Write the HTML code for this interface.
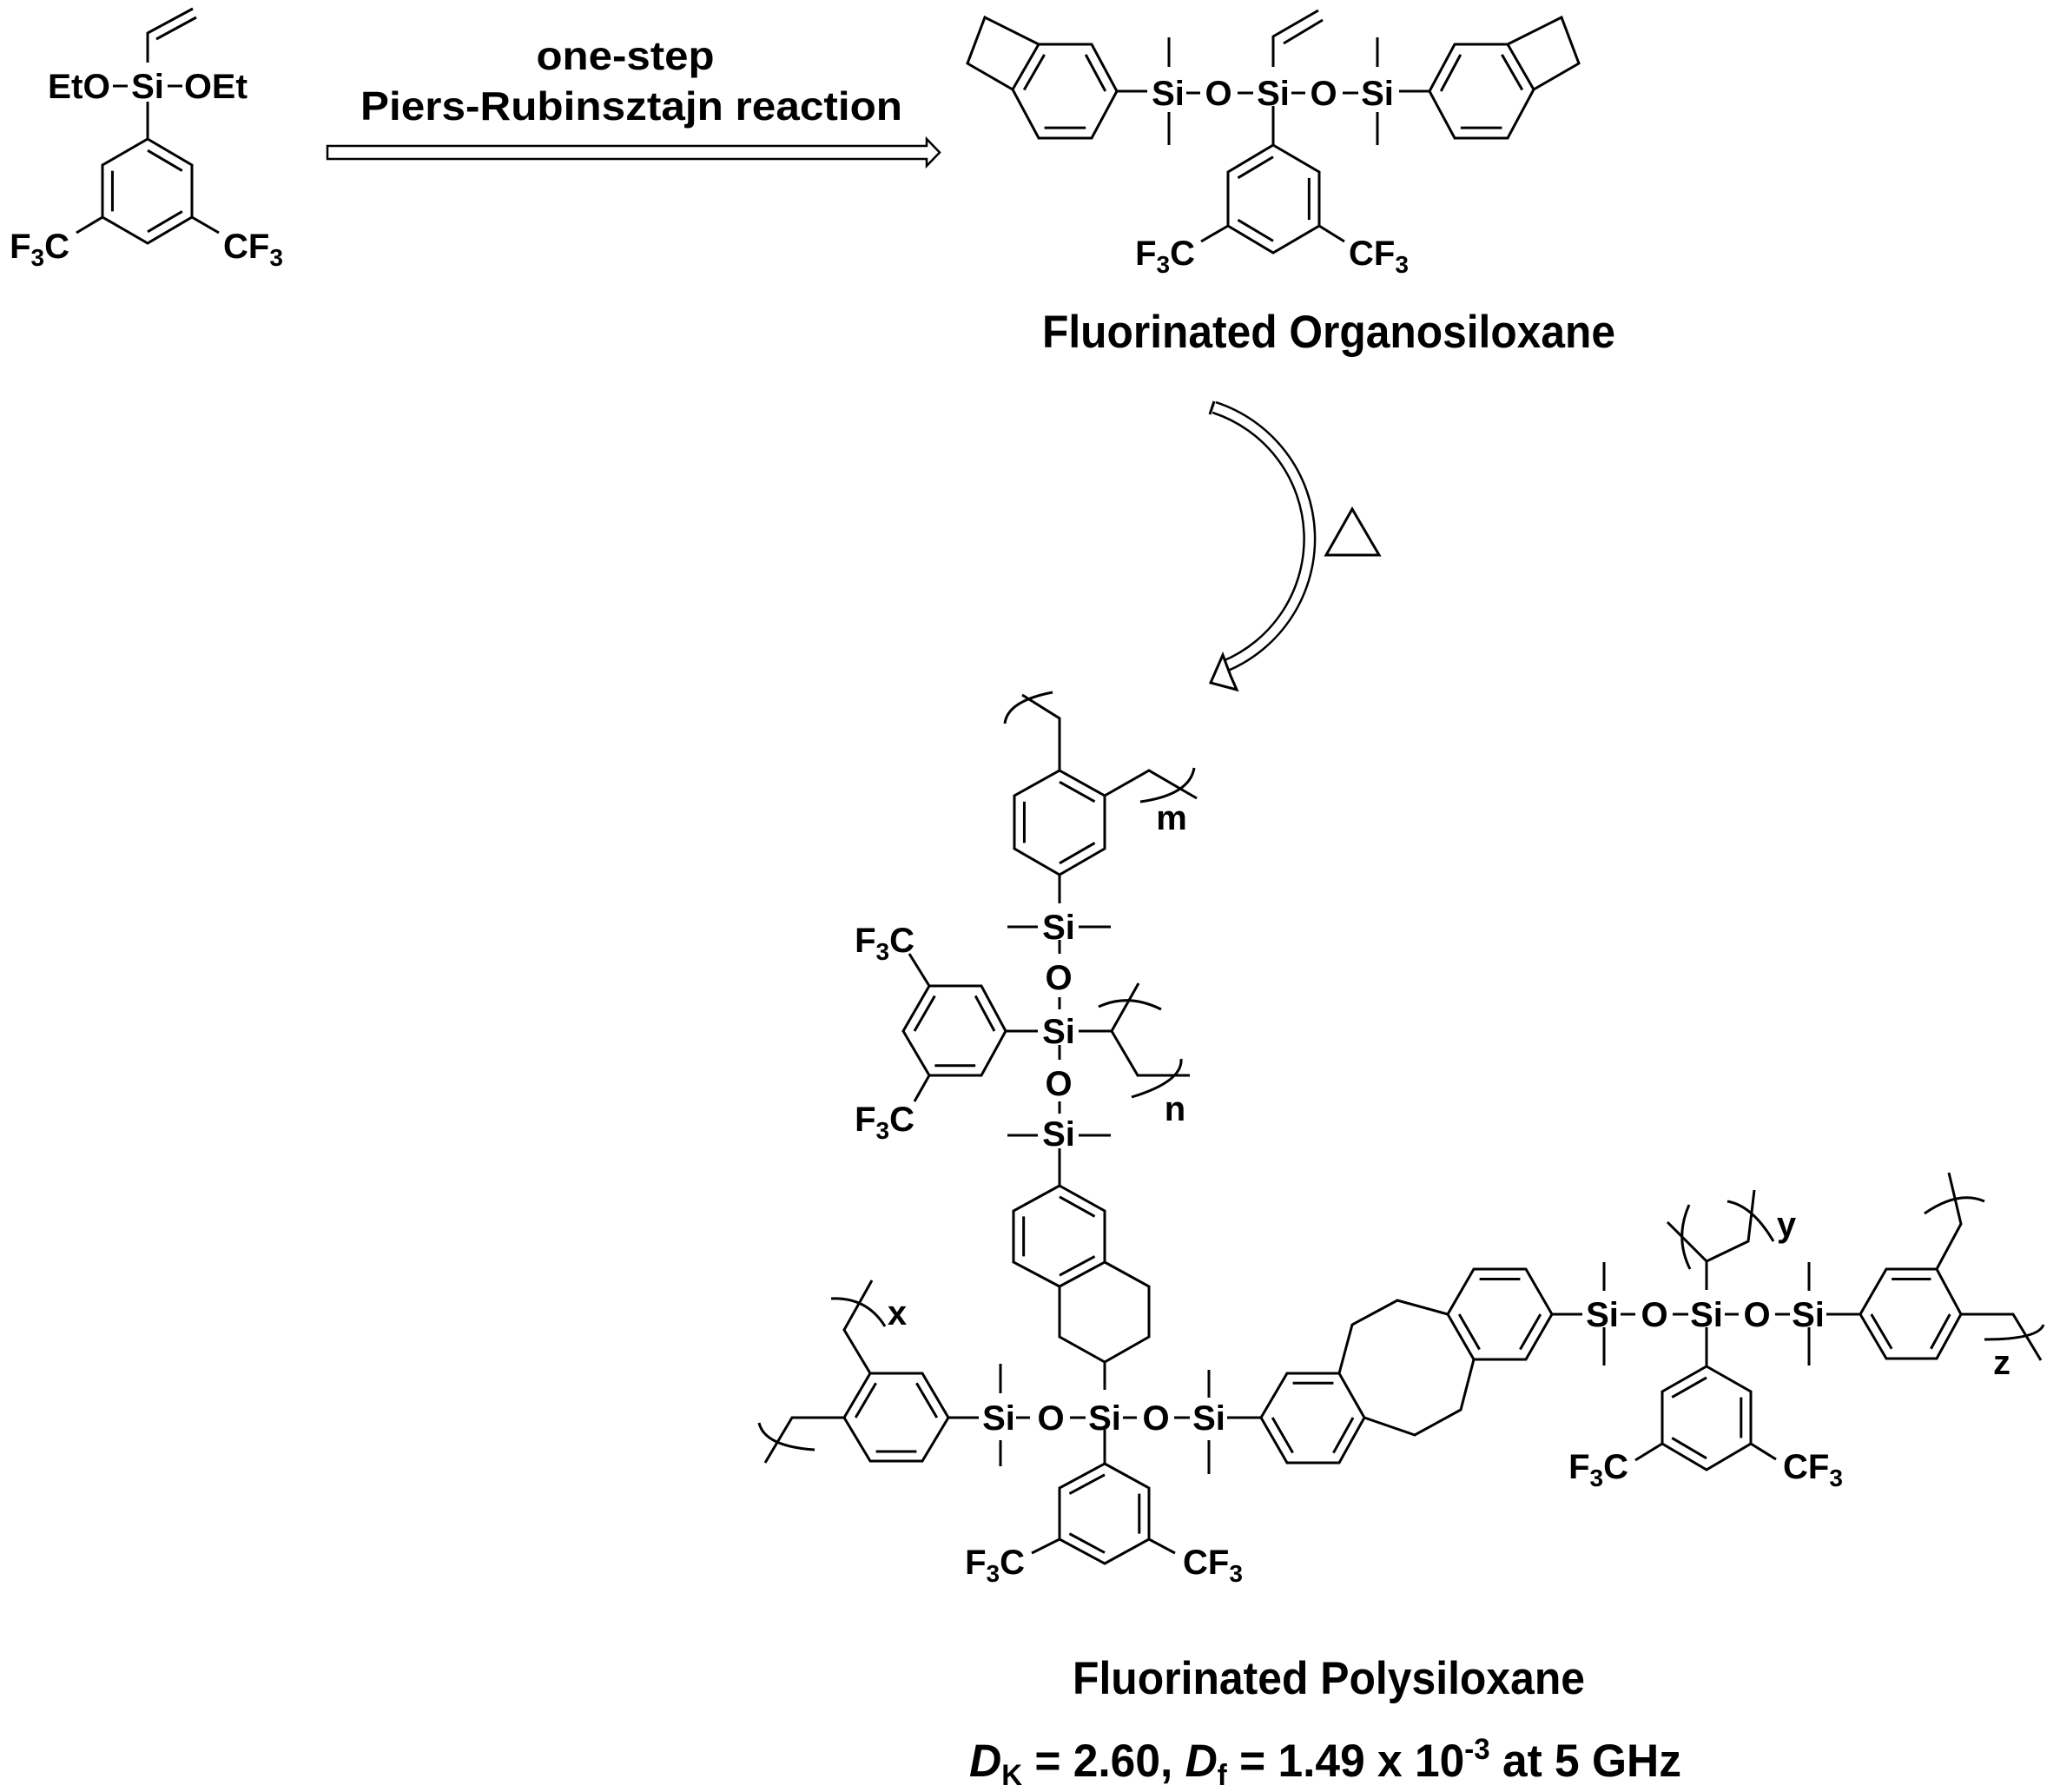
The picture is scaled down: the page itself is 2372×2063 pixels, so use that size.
<!DOCTYPE html>
<html><head><meta charset="utf-8"><style>
html,body{margin:0;padding:0;background:#fff}
svg{display:block}
text{font-family:"Liberation Sans",Arial,sans-serif;font-weight:bold;fill:#000}
.l{font-size:40px;text-anchor:middle}
</style></head><body>
<svg width="2372" height="2063" viewBox="0 0 2372 2063" xmlns="http://www.w3.org/2000/svg">
<g fill="none" stroke="#000" stroke-width="3" stroke-linejoin="miter" stroke-linecap="butt">
<path d="M170,72 V38 L222,10 M180,45 L226,20"/>
<path d="M170,117 V160"/>
<path d="M170,160 L221,190 L221,250 L170,280 L118,250 L118,190 Z"/>
<path d="M170,160 L221,190 M221,250 L170,280 M118,250 L118,190" transform="translate(170,220) scale(0.78) translate(-170,-220)" vector-effect="non-scaling-stroke"/>
<path d="M118,250 L88,268 M221,250 L252,268"/>
<path d="M130,99 H147 M193,99 H210"/>
<path d="M377,168 H1067 V160 L1082,175.5 L1067,191 V183 H377 Z" fill="#fff" stroke-width="2.5"/>

<path d="M1346,43 V77 M1346,129 V167 M1586,43 V77 M1586,129 V167"/>
<path d="M1466,77 V42 L1518,12 M1478,50 L1523,23"/>
<path d="M1366,107 H1382 M1425,107 H1443 M1487,107 H1503 M1546,107 H1564"/>
<path d="M1286,105 H1321 M1611,105 H1646"/>
<path d="M1286,105 L1257,51 L1196,51 L1166,103 L1196,159 L1257,159 Z M1196,51 L1134,20 L1114,73 L1166,103"/>
<path d="M1196,51 L1166,103 M1257,51 L1286,105 M1196,159 L1257,159" transform="translate(1226,105) scale(0.78) translate(-1226,-105)" vector-effect="non-scaling-stroke"/>
<path d="M1646,105 L1675,51 L1736,51 L1766,103 L1736,159 L1675,159 Z M1736,51 L1798,20 L1818,73 L1766,103"/>
<path d="M1736,51 L1766,103 M1675,51 L1646,105 M1675,159 L1736,159" transform="translate(1706,105) scale(0.78) translate(-1706,-105)" vector-effect="non-scaling-stroke"/>
<path d="M1466,122 V167"/>
<path d="M1466,167 L1519,198 L1519,260 L1466,291 L1414,260 L1414,198 Z"/>
<path d="M1414,198 L1466,167 M1519,198 L1519,260 M1414,260 L1466,291" transform="translate(1466,229) scale(0.78) translate(-1466,-229)" vector-effect="non-scaling-stroke"/>
<path d="M1414,260 L1383,278 M1519,260 L1548,278"/>

<path d="M1398,469 A159,159 0 0 1 1410,767" stroke-width="15"/>
<path d="M1398,469 A159,159 0 0 1 1410,767" stroke="#fff" stroke-width="10"/>
<path d="M1398,462 L1393,477" stroke-width="3"/>
<path d="M1408,754 L1394,786 L1424,794 L1417,778 Z" fill="#fff" stroke-width="3"/>
<path d="M1527,639 L1557,586 L1588,639 Z" stroke-width="3"/>

<path d="M1220,887 L1272,916 L1272,977 L1220,1007 L1168,977 L1168,916 Z"/>
<path d="M1220,887 L1272,916 M1168,916 L1168,977 M1272,977 L1220,1007" transform="translate(1220,947) scale(0.78) translate(-1220,-947)" vector-effect="non-scaling-stroke"/>
<path d="M1220,887 V827 L1177,800 M1157,833 Q1160,807 1212,797"/>
<path d="M1272,916 L1323,887 L1378,919 M1313,923 Q1370,915 1375,884"/>
<path d="M1220,1007 V1040"/>
<path d="M1160,1067 H1195 M1242,1067 H1279 M1160,1307 H1195 M1242,1307 H1279"/>
<path d="M1220,1082 V1098 M1220,1148 V1162 M1220,1203 V1220 M1220,1268 V1282"/>
<path d="M1158,1187 L1130,1135 L1070,1135 L1040,1187 L1070,1238 L1130,1238 Z"/>
<path d="M1158,1187 L1130,1135 M1070,1135 L1040,1187 M1070,1238 L1130,1238" transform="translate(1099,1187) scale(0.78) translate(-1099,-1187)" vector-effect="non-scaling-stroke"/>
<path d="M1195,1187 H1158 M1070,1135 L1047,1098 M1070,1238 L1053,1268"/>
<path d="M1242,1187 H1280 L1311,1132 M1265,1159 Q1299,1143 1337,1162 M1280,1187 L1310,1238 H1370 M1303,1263 Q1362,1245 1360,1219"/>
<path d="M1220,1322 V1365"/>
<path d="M1220,1365 L1272,1394 L1272,1453 L1220,1481 L1167,1453 L1167,1394 Z"/>
<path d="M1220,1365 L1272,1394 M1167,1394 L1167,1453 M1272,1453 L1220,1481" transform="translate(1220,1423) scale(0.78) translate(-1220,-1423)" vector-effect="non-scaling-stroke"/>
<path d="M1272,1453 L1323,1481 L1323,1539 L1272,1568 L1220,1539 L1220,1481"/>
<path d="M1272,1568 V1600"/>
<path d="M1170,1632 H1186 M1232,1632 H1250 M1293,1632 H1309 M1352,1632 H1370"/>
<path d="M1152,1570 V1604 M1152,1658 V1688 M1392,1577 V1609 M1392,1658 V1697"/>
<path d="M1127,1632 H1092"/>
<path d="M1092,1632 L1062,1581 L1002,1581 L972,1632 L1002,1682 L1062,1682 Z"/>
<path d="M1092,1632 L1062,1581 M1002,1581 L972,1632 M1002,1682 L1062,1682" transform="translate(1032,1632) scale(0.78) translate(-1032,-1632)" vector-effect="non-scaling-stroke"/>
<path d="M1002,1581 L972,1531 L1004,1474 M957,1495 Q998,1493 1019,1527"/>
<path d="M972,1632 H912 L881,1684 M874,1638 Q880,1665 938,1669"/>
<path d="M1272,1645 V1685"/>
<path d="M1272,1685 L1323,1713 L1323,1772 L1272,1800 L1220,1772 L1220,1713 Z"/>
<path d="M1220,1713 L1272,1685 M1323,1713 L1323,1772 M1220,1772 L1272,1800" transform="translate(1272,1743) scale(0.78) translate(-1272,-1743)" vector-effect="non-scaling-stroke"/>
<path d="M1220,1772 L1188,1788 M1323,1772 L1353,1788"/>
<path d="M1413,1632 H1452"/>
<path d="M1452,1632 L1482,1581 L1542,1581 L1571,1632 L1542,1684 L1482,1684 Z"/>
<path d="M1482,1581 L1542,1581 M1452,1632 L1482,1684 M1571,1632 L1542,1684" transform="translate(1512,1632) scale(0.78) translate(-1512,-1632)" vector-effect="non-scaling-stroke"/>
<path d="M1542,1581 L1557,1525 L1609,1497 L1667,1513 M1571,1632 L1629,1652 L1682,1623 L1697,1565"/>
<path d="M1667,1513 L1697,1461 L1757,1461 L1787,1513 L1757,1565 L1697,1565 Z"/>
<path d="M1697,1461 L1757,1461 M1667,1513 L1697,1565 M1787,1513 L1757,1565" transform="translate(1727,1513) scale(0.78) translate(-1727,-1513)" vector-effect="non-scaling-stroke"/>
<path d="M1787,1513 H1822"/>
<path d="M1866,1513 H1883 M1926,1513 H1944 M1986,1513 H2002 M2044,1513 H2061"/>
<path d="M1847,1453 V1486 M1847,1528 V1572 M2083,1453 V1486 M2083,1528 V1572"/>
<path d="M1965,1485 V1452 L1920,1407 M1945,1387 Q1928,1425 1946,1461 M1965,1452 L2013,1429 L2020,1370 M1989,1383 Q2018,1388 2042,1429"/>
<path d="M1965,1528 V1573"/>
<path d="M1965,1573 L2016,1602 L2016,1662 L1965,1692 L1914,1662 L1914,1602 Z"/>
<path d="M1914,1602 L1965,1573 M2016,1602 L2016,1662 M1914,1662 L1965,1692" transform="translate(1965,1632) scale(0.78) translate(-1965,-1632)" vector-effect="non-scaling-stroke"/>
<path d="M1914,1662 L1883,1681 M2016,1662 L2045,1680"/>
<path d="M2103,1513 H2142"/>
<path d="M2142,1513 L2172,1461 L2230,1461 L2258,1513 L2230,1564 L2172,1564 Z"/>
<path d="M2172,1461 L2230,1461 M2142,1513 L2172,1564 M2258,1513 L2230,1564" transform="translate(2200,1513) scale(0.78) translate(-2200,-1513)" vector-effect="non-scaling-stroke"/>
<path d="M2230,1461 L2258,1409 L2244,1350 M2216,1397 Q2255,1370 2285,1383"/>
<path d="M2258,1513 H2318 L2350,1566 M2285,1542 Q2347,1542 2353,1525"/>
</g>

<text x="720" y="80" font-size="46" text-anchor="middle" textLength="205" lengthAdjust="spacingAndGlyphs">one-step</text>
<text x="727" y="138" font-size="46" text-anchor="middle" textLength="624" lengthAdjust="spacingAndGlyphs">Piers-Rubinsztajn reaction</text>

<text x="127" y="113" font-size="40" text-anchor="end" textLength="72" lengthAdjust="spacingAndGlyphs">EtO</text>
<text class="l" x="170" y="113">Si</text>
<text x="212" y="113" font-size="40" textLength="73" lengthAdjust="spacingAndGlyphs">OEt</text>
<text x="80" y="297" font-size="40" text-anchor="end">F<tspan font-size="28" dy="9">3</tspan><tspan dy="-9">C</tspan></text>
<text x="257" y="297" font-size="40">CF<tspan font-size="28" dy="9">3</tspan></text>

<text class="l" x="1345" y="121">Si</text>
<text class="l" x="1403" y="121">O</text>
<text class="l" x="1466" y="121">Si</text>
<text class="l" x="1524" y="121">O</text>
<text class="l" x="1586" y="121">Si</text>
<text x="1376" y="305" font-size="40" text-anchor="end">F<tspan font-size="28" dy="9">3</tspan><tspan dy="-9">C</tspan></text>
<text x="1553" y="305" font-size="40">CF<tspan font-size="28" dy="9">3</tspan></text>
<text x="1530" y="400" font-size="53" text-anchor="middle" textLength="660" lengthAdjust="spacingAndGlyphs">Fluorinated Organosiloxane</text>

<text class="l" x="1219" y="1081">Si</text>
<text class="l" x="1219" y="1139">O</text>
<text class="l" x="1219" y="1201">Si</text>
<text class="l" x="1219" y="1261">O</text>
<text class="l" x="1219" y="1319">Si</text>
<text x="1053" y="1096" font-size="40" text-anchor="end">F<tspan font-size="28" dy="9">3</tspan><tspan dy="-9">C</tspan></text>
<text x="1053" y="1302" font-size="40" text-anchor="end">F<tspan font-size="28" dy="9">3</tspan><tspan dy="-9">C</tspan></text>
<text x="1349" y="955" font-size="40" text-anchor="middle">m</text>
<text x="1353" y="1290" font-size="40" text-anchor="middle">n</text>

<text class="l" x="1150" y="1646">Si</text>
<text class="l" x="1210" y="1646">O</text>
<text class="l" x="1272" y="1646">Si</text>
<text class="l" x="1331" y="1646">O</text>
<text class="l" x="1392" y="1646">Si</text>
<text x="1033" y="1525" font-size="40" text-anchor="middle">x</text>
<text x="1180" y="1812" font-size="40" text-anchor="end">F<tspan font-size="28" dy="9">3</tspan><tspan dy="-9">C</tspan></text>
<text x="1362" y="1812" font-size="40">CF<tspan font-size="28" dy="9">3</tspan></text>

<text class="l" x="1845" y="1527">Si</text>
<text class="l" x="1905" y="1527">O</text>
<text class="l" x="1965" y="1527">Si</text>
<text class="l" x="2023" y="1527">O</text>
<text class="l" x="2082" y="1527">Si</text>
<text x="2057" y="1423" font-size="40" text-anchor="middle">y</text>
<text x="2305" y="1582" font-size="40" text-anchor="middle">z</text>
<text x="1875" y="1702" font-size="40" text-anchor="end">F<tspan font-size="28" dy="9">3</tspan><tspan dy="-9">C</tspan></text>
<text x="2053" y="1702" font-size="40">CF<tspan font-size="28" dy="9">3</tspan></text>

<text x="1530" y="1950" font-size="53" text-anchor="middle" textLength="590" lengthAdjust="spacingAndGlyphs">Fluorinated Polysiloxane</text>
<text x="1116" y="2045" font-size="53" textLength="820" lengthAdjust="spacingAndGlyphs"><tspan font-style="italic">D</tspan><tspan font-size="34" dy="10">K</tspan><tspan dy="-10"> = 2.60, </tspan><tspan font-style="italic">D</tspan><tspan font-size="34" dy="10">f</tspan><tspan dy="-10"> = 1.49 x 10</tspan><tspan font-size="34" dy="-20">-3</tspan><tspan dy="20"> at 5 GHz</tspan></text>
</svg>
</body></html>
